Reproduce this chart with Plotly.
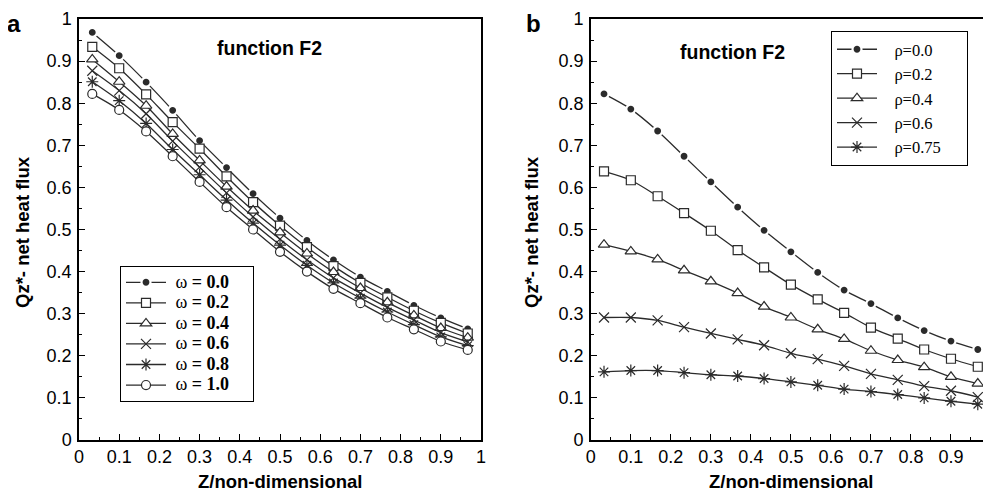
import plotly.graph_objects as go

# ---------------- data ----------------
z = [0.033, 0.1, 0.167, 0.233, 0.3, 0.367, 0.433, 0.5, 0.567, 0.633, 0.7, 0.767, 0.833, 0.9, 0.967]

omega_labels = ["0.0", "0.2", "0.4", "0.6", "0.8", "1.0"]
w00 = [0.968, 0.913, 0.850, 0.783, 0.711, 0.647, 0.585, 0.527, 0.474, 0.428, 0.387, 0.353, 0.320, 0.290, 0.264]
w02 = [0.934, 0.883, 0.821, 0.755, 0.692, 0.626, 0.565, 0.509, 0.458, 0.413, 0.373, 0.339, 0.307, 0.278, 0.253]
w04 = [0.904, 0.851, 0.794, 0.727, 0.664, 0.602, 0.545, 0.493, 0.443, 0.399, 0.361, 0.327, 0.296, 0.266, 0.243]
w06 = [0.877, 0.830, 0.775, 0.710, 0.648, 0.587, 0.530, 0.477, 0.428, 0.385, 0.349, 0.315, 0.285, 0.255, 0.233]
w08 = [0.851, 0.806, 0.752, 0.690, 0.630, 0.570, 0.515, 0.463, 0.415, 0.373, 0.337, 0.304, 0.274, 0.245, 0.224]
w10 = [0.822, 0.784, 0.733, 0.674, 0.613, 0.553, 0.500, 0.447, 0.400, 0.359, 0.325, 0.291, 0.263, 0.234, 0.214]

rho_labels = ["ρ=0.0", "ρ=0.2", "ρ=0.4", "ρ=0.6", "ρ=0.75"]
r00 = [0.822, 0.786, 0.734, 0.674, 0.613, 0.553, 0.498, 0.447, 0.398, 0.356, 0.324, 0.290, 0.260, 0.235, 0.215]
r02 = [0.638, 0.617, 0.579, 0.539, 0.497, 0.451, 0.410, 0.369, 0.334, 0.302, 0.267, 0.241, 0.215, 0.193, 0.174]
r04 = [0.464, 0.448, 0.429, 0.403, 0.377, 0.349, 0.317, 0.291, 0.263, 0.240, 0.212, 0.190, 0.173, 0.150, 0.134]
r06 = [0.291, 0.291, 0.284, 0.268, 0.253, 0.239, 0.225, 0.206, 0.192, 0.176, 0.157, 0.143, 0.128, 0.117, 0.102]
r075 = [0.162, 0.165, 0.165, 0.160, 0.155, 0.152, 0.146, 0.138, 0.130, 0.121, 0.115, 0.108, 0.100, 0.092, 0.085]

omega_series = [w00, w02, w04, w06, w08, w10]
rho_series = [r00, r02, r04, r06, r075]

LINE = "#2b2b2b"
SANS = "Liberation Sans, Arial"
SERIF = "Liberation Serif, Times New Roman"
NB = "\u00a0"

# marker styles: filled dot with a white halo (gap to line), white-filled open shapes, line-only crosses
markers = [
    dict(symbol="circle", size=9, color=LINE, line=dict(color="white", width=2.2)),
    dict(symbol="square", size=9, color="white", line=dict(color=LINE, width=1.2)),
    dict(symbol="triangle-up", size=10, color="white", line=dict(color=LINE, width=1.2)),
    dict(symbol="x-thin-open", size=10, color=LINE, line=dict(color=LINE, width=1.2)),
    dict(symbol="asterisk-open", size=10, color=LINE, line=dict(color=LINE, width=1.2)),
    dict(symbol="circle", size=9, color="white", line=dict(color=LINE, width=1.2)),
]

fig = go.Figure()

for lab, ys, mk in zip(omega_labels, omega_series, markers):
    fig.add_trace(go.Scatter(
        x=z, y=ys, mode="lines+markers",
        name='<span style="font-size:18px">' + NB + 'ω <b>= ' + lab + '</b>' + NB * 4 + '</span>',
        line=dict(color=LINE, width=1.3, shape="spline", smoothing=0.8),
        marker=mk, xaxis="x", yaxis="y", legend="legend"))

for lab, ys, mk in zip(rho_labels, rho_series, markers):
    fig.add_trace(go.Scatter(
        x=z, y=ys, mode="lines+markers",
        name=NB * 3 + lab + NB * 5,
        line=dict(color=LINE, width=1.3, shape="spline", smoothing=0.8),
        marker=mk, xaxis="x2", yaxis="y2", legend="legend2"))

# page body has an 8px margin: the figure is drawn at (8, 8)
OFF = 8
W, H = 991 - OFF, 492 - OFF
L, R, T, B = 79 - OFF, 0, 19 - OFF, 52
pw = W - L - R
ph = H - T - B

def px_x(p):  # reference pixel -> paper x
    return (p - OFF - L) / pw

def px_y(p):  # reference pixel -> paper y
    return (H - B - (p - OFF)) / ph

def axis(extra):
    d = dict(range=[0, 1], dtick=0.1, tick0=0, automargin=False,
             showgrid=False, zeroline=False, showline=True, linecolor="black", linewidth=1.5,
             mirror=True, ticks="inside", ticklen=6, tickwidth=1.3, tickcolor="black",
             minor=dict(ticks="inside", dtick=0.05, ticklen=3.5, tickwidth=1.2, tickcolor="black"),
             tickfont=dict(family=SANS, size=18, color="black"),
             tickformat="~g")
    d.update(extra)
    return d

fig.update_layout(
    width=W, height=H,
    margin=dict(l=L, r=R, t=T, b=B, autoexpand=False),
    paper_bgcolor="white", plot_bgcolor="white",
    xaxis=axis(dict(domain=[0, 402 / pw], anchor="y", ticklabelstandoff=0)),
    yaxis=axis(dict(domain=[0, 1], anchor="x", ticklabelstandoff=2)),
    xaxis2=axis(dict(domain=[511.8 / pw, 1.0], anchor="y2", ticklabelstandoff=0)),
    yaxis2=axis(dict(domain=[0, 1], anchor="x2", ticklabelstandoff=2)),
    legend=dict(x=px_x(120), y=px_y(266), xanchor="left", yanchor="top",
                bordercolor="black", borderwidth=1, bgcolor="white",
                font=dict(family=SERIF, size=13.5, color="black"),
                itemwidth=40, tracegroupgap=0),
    legend2=dict(x=px_x(831), y=px_y(31), xanchor="left", yanchor="top",
                 bordercolor="black", borderwidth=1, bgcolor="white",
                 font=dict(family=SERIF, size=16.5, color="black"),
                 itemwidth=40, tracegroupgap=0),
    showlegend=True,
)

ann = [
    dict(text="<b>function F2</b>", xref="x", yref="y", x=0.474, y=0.931,
         font=dict(family=SANS, size=19.5, color="black")),
    dict(text="<b>function F2</b>", xref="x2", yref="y2", x=0.354, y=0.922,
         font=dict(family=SANS, size=19.5, color="black")),
    dict(text="<b>a</b>", xref="paper", yref="paper", x=px_x(14), y=px_y(8.5),
         yanchor="top", borderpad=0,
         font=dict(family=SANS, size=24, color="black")),
    dict(text="<b>b</b>", xref="paper", yref="paper", x=px_x(533), y=px_y(8.5),
         yanchor="top", borderpad=0,
         font=dict(family=SANS, size=24, color="black")),
    dict(text="<b>Z/non-dimensional</b>", xref="paper", yref="paper", x=px_x(280), y=px_y(481),
         font=dict(family=SANS, size=18.5, color="black")),
    dict(text="<b>Z/non-dimensional</b>", xref="paper", yref="paper", x=px_x(791), y=px_y(481),
         font=dict(family=SANS, size=18.5, color="black")),
    dict(text="<b>Qz*- net heat flux</b>", xref="paper", yref="paper", x=px_x(22), y=px_y(232),
         textangle=-90, font=dict(family=SANS, size=18.5, color="black")),
    dict(text="<b>Qz*- net heat flux</b>", xref="paper", yref="paper", x=px_x(531), y=px_y(232),
         textangle=-90, font=dict(family=SANS, size=18.5, color="black")),
]
for a in ann:
    a.setdefault("yanchor", "middle")
    a.update(showarrow=False, xanchor="center")
fig.update_layout(annotations=ann)

fig.write_html("out.html")
